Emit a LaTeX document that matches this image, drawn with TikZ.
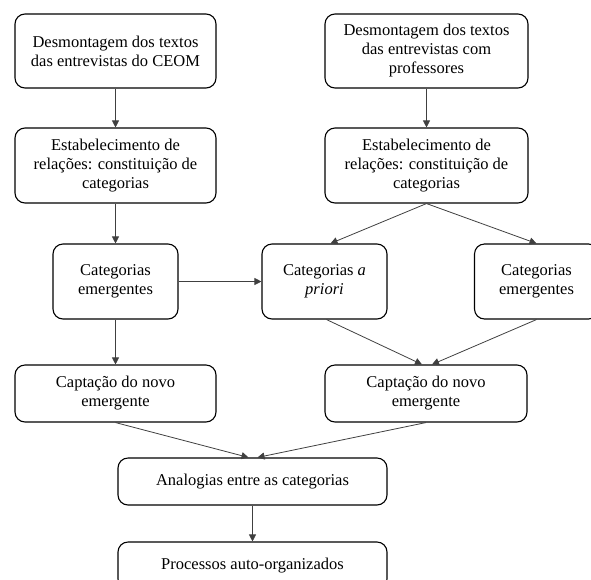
\documentclass[tikz,border=0pt]{standalone}
\usepackage{fontspec}
\setmainfont{Liberation Serif}
\usetikzlibrary{arrows.meta,calc}
\begin{document}
\begin{tikzpicture}[x=1pt,y=-1pt,
  every node/.style={font=\fontsize{16.5}{19}\selectfont},
  caixa/.style={draw,line width=1.1pt,rounded corners=10pt,align=center,inner sep=2pt},
  seta/.style={-{Triangle[width=7pt,length=7pt]},black!75,line width=0.8pt}]
  \useasboundingbox (0,0) rectangle (591,579);
  \clip (0,0) rectangle (591,579);
  \node[caixa,minimum width=201pt,minimum height=74pt] (desm1) at (115.5,51) {Desmontagem dos textos\\das entrevistas do CEOM};
  \node[caixa,minimum width=203pt,minimum height=74pt] (desm2) at (426.5,51) {Desmontagem dos textos\\das entrevistas com\\professores};
  \node[caixa,minimum width=201pt,minimum height=75pt] (est1) at (115.5,165.5) {Estabelecimento de\\relações: constituição de\\categorias};
  \node[caixa,minimum width=203pt,minimum height=75pt] (est2) at (426.5,165.5) {Estabelecimento de\\relações: constituição de\\categorias};
  \node[caixa,minimum width=125pt,minimum height=75pt] (emerg1) at (115.5,281.5) {Categorias\\emergentes};
  \node[caixa,minimum width=125pt,minimum height=75pt] (priori) at (324.5,281.5) {Categorias \textit{a}\\\textit{priori}};
  \node[caixa,minimum width=124pt,minimum height=75pt] (emerg2) at (536.5,281.5) {Categorias\\emergentes};
  \node[caixa,minimum width=201pt,minimum height=57pt] (cap1) at (115.5,393.5) {Captação do novo\\emergente};
  \node[caixa,minimum width=202pt,minimum height=57pt] (cap2) at (426,393.5) {Captação do novo\\emergente};
  \node[caixa,minimum width=269pt,minimum height=47pt] (analog) at (252.5,481.5) {Analogias entre as categorias};
  \node[caixa,minimum width=269pt,minimum height=47pt] (proc) at (252.5,565.5) {Processos auto-organizados};
  % ligacoes
  \draw[seta] (desm1) -- (est1);
  \draw[seta] (desm2) -- (est2);
  \draw[seta] (est1) -- (emerg1);
  \draw[seta] (est2.south) -- ($(priori.north)+(6,0)$);
  \draw[seta] (est2.south) -- (emerg2.north);
  \draw[seta] (emerg1) -- (priori);
  \draw[seta] (emerg1) -- (cap1);
  \draw[seta] ($(priori.south)+(2,0)$) -- ($(cap2.north)+(-4,0)$);
  \draw[seta] (emerg2.south) -- ($(cap2.north)+(6,0)$);
  \draw[seta] (cap1.south) -- ($(analog.north)+(-4,0)$);
  \draw[seta] (cap2.south) -- ($(analog.north)+(5,0)$);
  \draw[seta] (analog) -- (proc);
\end{tikzpicture}
\end{document}
